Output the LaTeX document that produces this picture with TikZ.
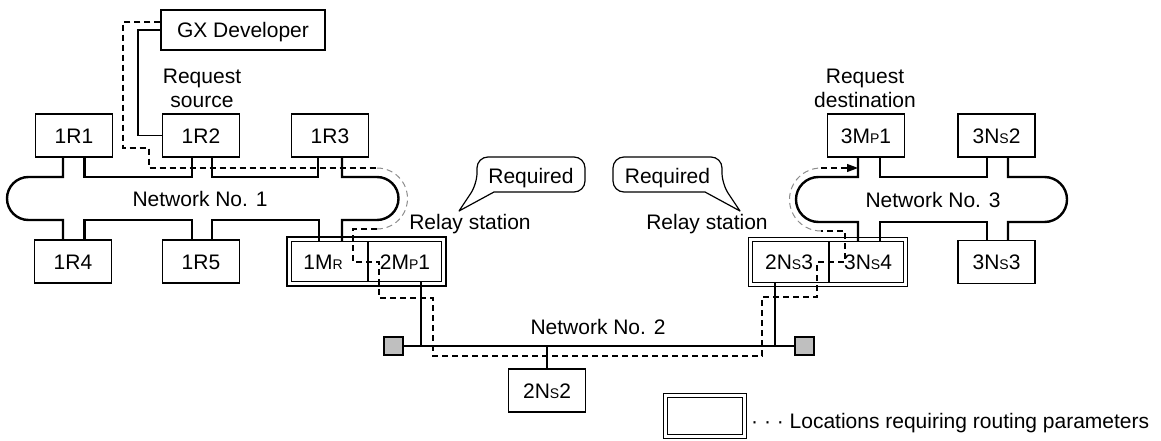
\documentclass[tikz,border=0pt]{standalone}
\usepackage{fontspec}
\setmainfont{Liberation Sans}
\usetikzlibrary{arrows.meta}
\newcommand\subl[1]{{\fontsize{14}{16}\selectfont #1}}
\begin{document}
\begin{tikzpicture}[x=1pt,y=-1pt,
  font=\fontsize{21}{23.5}\selectfont,
  box/.style={draw, line width=1.2pt, minimum width=77pt, minimum height=43pt, inner sep=0pt, text height=15pt, text depth=0pt},
  cellbox/.style={inner sep=0pt, minimum height=39pt, text height=15pt, text depth=0pt},
  relay/.style={draw, double, double distance=3.4pt, line width=1.1pt, inner sep=0pt},
  net/.style={line width=2.4pt, line join=miter},
  link/.style={line width=1.2pt},
  route/.style={line width=1.1pt, dash pattern=on 6pt off 4pt},
  routearc/.style={line width=1pt, black!45, dash pattern=on 6pt off 4pt},
  term/.style={draw, fill=black!25, line width=1.1pt, minimum width=19pt, minimum height=18pt, inner sep=0pt},
  lbl/.style={inner sep=0pt, text height=15pt, text depth=0pt},
  twoline/.style={inner sep=0pt, align=center},
  callout/.style={draw, line width=1.2pt, line join=round}]
\useasboundingbox (0,0) rectangle (1161,441);

% --- stations
\node[box, minimum width=164pt, minimum height=40pt] (gx) at (243,30) {GX Developer};
\node[box] (r11) at (74,135.5) {1R1};
\node[box] (r12) at (201,135.5) {1R2};
\node[box] (r13) at (330,135.5) {1R3};
\node[box] (r14) at (73,261.5) {1R4};
\node[box] (r15) at (201,261.5) {1R5};
\node[box] (m3p) at (866,135.5) {3M\subl{P}1};
\node[box] (n3s2) at (996.5,135.5) {3N\subl{S}2};
\node[box] (n3s3) at (996.5,262) {3N\subl{S}3};
\node[box] (n2s2) at (547,390.5) {2N\subl{S}2};

% --- relay stations
\node[relay, minimum width=154.5pt, minimum height=44.5pt] (relL) at (366.5,261.5) {};
\node[cellbox] (m1r) at (323,261.5) {1M\subl{R}};
\node[cellbox] (m2p) at (405,261.5) {2M\subl{P}1};
\draw[link] (368,0 |- m1r.north) -- (368,0 |- m1r.south);
\node[relay, minimum width=155pt, minimum height=45pt] (relR) at (828,262) {};
\node[cellbox, minimum height=40pt] (n2s3) at (789,262) {2N\subl{S}3};
\node[cellbox, minimum height=40pt] (n3s4) at (868,262) {3N\subl{S}4};
\draw[link] (829,0 |- n2s3.north) -- (829,0 |- n2s3.south);

% --- network 1
\draw[net] (63,0 |- r11.south) -- (63,177) -- (28.5,177) arc[start angle=270,end angle=90,radius=21.5] -- (63,220) -- (63,0 |- r14.north);
\draw[net] (84.5,0 |- r14.north) -- (84.5,220) -- (192,220) -- (192,0 |- r15.north);
\draw[net] (212,0 |- r15.north) -- (212,220) -- (319,220) -- (319,0 |- m1r.north);
\draw[net] (342,0 |- m1r.north) -- (342,220) -- (377,220) arc[start angle=90,end angle=-90,radius=21.5] -- (342,177) -- (342,0 |- r13.south);
\draw[net] (318,0 |- r13.south) -- (318,177) -- (212,177) -- (212,0 |- r12.south);
\draw[net] (192,0 |- r12.south) -- (192,177) -- (84.5,177) -- (84.5,0 |- r11.south);

% --- network 3
\draw[net] (858,0 |- m3p.south) -- (858,177) -- (818.5,177) arc[start angle=270,end angle=90,radius=22.5] -- (858,222) -- (858,0 |- n3s4.north);
\draw[net] (880,0 |- n3s4.north) -- (880,222) -- (987,222) -- (987,0 |- n3s3.north);
\draw[net] (1008,0 |- n3s3.north) -- (1008,222) -- (1044.5,222) arc[start angle=90,end angle=-90,radius=22.5] -- (1008,177) -- (1008,0 |- n3s2.south);
\draw[net] (987,0 |- n3s2.south) -- (987,177) -- (880,177) -- (880,0 |- m3p.south);

% --- network 2
\node[term] (tL) at (393.5,346) {};
\node[term] (tR) at (804.5,346) {};
\draw[net] (tL.east) -- (tR.west);
\draw[net] (421,0 |- m2p.south) -- (421,0 |- tL.east);
\draw[net] (775,0 |- n2s3.south) -- (775,0 |- tR.west);
\draw[net] (n2s2.north) -- (n2s2.north |- tL.east);

% --- GX Developer connection
\draw[link] (gx.west) -- (138,0 |- gx.west) -- (138,0 |- r12.west) -- (r12.west);

% --- routing path
\draw[route] ([yshift=8pt]gx.west) -- (123,22) -- (123,148) -- (149,148) -- (149,168) -- (377,168);
\draw[routearc] (377,168) arc[start angle=-90,end angle=90,radius=30.5];
\draw[route] (377,229) -- (353,229) -- (353,262) -- (379,262) -- (379,298) -- (433,298) -- (433,356)
  -- (762,356) -- (762,297) -- (817,297) -- (817,262) -- (845,262) -- (845,231) -- (821,231);
\draw[routearc] (821,231) arc[start angle=90,end angle=270,radius=31.5];
\draw[route,-{Triangle[length=11pt,width=8pt]}] (821,168) -- (858,0 |- 821,168);

% --- labels
\node[twoline] (src) at (202,88.5) {Request\\source};
\node[twoline] (dst) at (865,88.5) {Request\\destination};
\node[lbl] (net1) at (200,199) {Network No. 1};
\node[lbl] (net3) at (933,200) {Network No. 3};
\node[lbl] (net2) at (598,326.5) {Network No. 2};
\node[lbl] (rsL) at (470,222) {Relay station};
\node[lbl] (rsR) at (707,222) {Relay station};

% --- callouts
\node[lbl] (req1) at (531,176) {Required};
\draw[callout, rounded corners=11pt] (494,192) -- (585,192) -- (585,157) -- (477,157) -- (477,184) [sharp corners] -- (459,211) -- cycle;
\node[lbl] (req2) at (667.5,176) {Required};
\draw[callout, rounded corners=11pt] (705,192) -- (613,192) -- (613,157) -- (722,157) -- (722,184) [sharp corners] -- (740,211) -- cycle;

% --- legend
\node[relay, minimum width=79pt, minimum height=41pt] (leg) at (705,416) {};
\node[lbl, anchor=west] (legt) at (751,421) {· · · Locations requiring routing parameters};
\end{tikzpicture}
\end{document}
